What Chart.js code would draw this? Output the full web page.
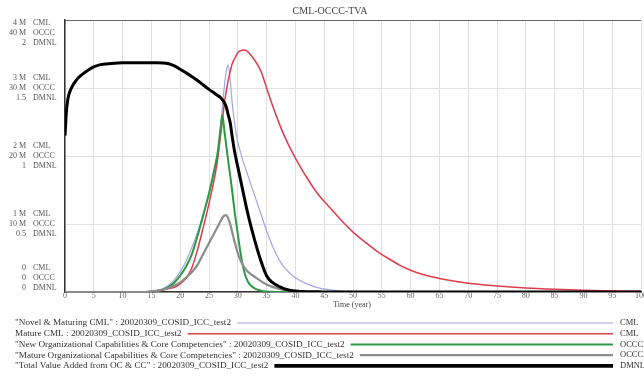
<!DOCTYPE html>
<html>
<head>
<meta charset="utf-8">
<script src="https://cdn.jsdelivr.net/npm/chart.js@4.4.1/dist/chart.umd.min.js"></script>
<style>
html,body{margin:0;padding:0;background:#fff;}
#wrap{width:644px;height:378px;}
</style>
</head>
<body>
<div id="wrap"><canvas id="c" width="644" height="378"></canvas></div>
<script>
// ---------- DATA ----------
const chartTitle = 'CML-OCCC-TVA';
const xAxisTitle = 'Time (year)';
const years = [0,0.25,0.5,1,2,3,4,5,6,8,
  10,12,14,15,16,17,18,19,20,21,
  22,23,24,25,26,26.5,27,27.3,27.7,28,
  28.3,28.7,29,29.5,30,30.5,31,31.5,32,33,
  34,35,36,37,38,39,40,42,44,46,
  48,50,52,54,56,58,60,62,65,70,
  75,80,85,90,95,100];
// CML (millions)
const novelMaturingCML = [0,0,0,0,0,0,0,0,0,0,
  0,0,0,0.01,0.02,0.05,0.1,0.18,0.3,0.45,
  0.65,0.88,1.15,1.45,1.8,2.0,2.4,2.7,3.05,3.25,
  3.34,3.1,2.8,2.45,2.2,2.05,1.9,1.78,1.65,1.4,
  1.15,0.9,0.68,0.5,0.37,0.28,0.21,0.12,0.06,0.03,
  0.015,0.01,0.005,0,0,0,0,0,0,0,
  0,0,0,0,0,0];
const matureCML = [0,0,0,0,0,0,0,0,0,0,
  0,0,0,0.01,0.02,0.03,0.05,0.07,0.12,0.2,
  0.35,0.62,0.95,1.3,1.7,1.95,2.3,2.5,2.8,2.95,
  3.1,3.25,3.35,3.44,3.52,3.55,3.56,3.55,3.51,3.4,
  3.25,3.0,2.75,2.52,2.31,2.13,1.97,1.68,1.43,1.24,
  1.05,0.88,0.74,0.61,0.5,0.4,0.32,0.26,0.2,0.13,
  0.09,0.06,0.04,0.025,0.015,0.01];
// OCCC (millions)
const newOCCC = [0,0,0,0,0,0,0,0,0,0,
  0,0,0,0.05,0.15,0.35,0.75,1.4,2.4,3.7,
  5.5,8.2,11.3,14.5,18.3,20.5,24,26,23.5,21.5,
  19.5,17,15,11.5,8.5,5.6,3.4,2.0,1.2,0.5,
  0.2,0.08,0.03,0.01,0,0,0,0,0,0,
  0,0,0,0,0,0,0,0,0,0,
  0,0,0,0,0,0];
const matureOCCC = [0,0,0,0,0,0,0,0,0,0,
  0,0,0,0.1,0.2,0.35,0.6,0.95,1.4,2.1,
  2.9,4.0,5.6,7.2,8.8,9.6,10.4,10.9,11.25,11.3,
  10.9,9.9,8.9,7.2,5.7,4.6,3.8,3.2,2.8,2.2,
  1.6,1.1,0.75,0.5,0.32,0.2,0.12,0.04,0.01,0,
  0,0,0,0,0,0,0,0,0,0,
  0,0,0,0,0,0];
// DMNL
const totalValueAdded = [1.15,1.33,1.42,1.49,1.56,1.6,1.63,1.655,1.67,1.68,
  1.685,1.685,1.685,1.685,1.685,1.684,1.678,1.662,1.638,1.612,
  1.585,1.555,1.522,1.49,1.46,1.445,1.43,1.415,1.39,1.36,
  1.31,1.24,1.15,1.02,0.92,0.82,0.72,0.62,0.53,0.37,
  0.23,0.12,0.07,0.044,0.025,0.013,0.007,0.002,0.001,0,
  0,0,0,0,0,0,0,0,0,0,
  0,0,0,0,0,0];

const cmlTickLabels = ['0','1 M','2 M','3 M','4 M'];
const occcTickLabels = ['0','10 M','20 M','30 M','40 M'];
const dmnlTickLabels = ['0','0.5','1','1.5','2'];
const unitNames = ['CML','OCCC','DMNL'];
const xTickValues = [0,5,10,15,20,25,30,35,40,45,50,55,60,65,70,75,80,85,90,95,100];

const seriesNames = [
  '"Novel & Maturing CML" : 20020309_COSID_ICC_test2',
  'Mature CML : 20020309_COSID_ICC_test2',
  '"New Organizational Capabilities & Core Competencies" : 20020309_COSID_ICC_test2',
  '"Mature Organizational Capabilities & Core Competencies" : 20020309_COSID_ICC_test2',
  '"Total Value Added from OC & CC" : 20020309_COSID_ICC_test2'
];
const seriesUnits = ['CML','CML','OCCC','OCCC','DMNL'];

// ---------- STYLE ----------
const colors = ['#a4a4e4','#dc3c4c','#2c9a44','#8c8c8c','#000000'];
const widths = [1.2,1.5,2,2.2,3];
const axisIds = ['yCML','yCML','yOCCC','yOCCC','yDMNL'];
const seriesData = [novelMaturingCML, matureCML, newOCCC, matureOCCC, totalValueAdded];
const SERIF = '"Liberation Serif", "DejaVu Serif", serif';

const datasets = seriesData.map((arr, i) => ({
  label: seriesNames[i],
  data: arr.map((v, k) => ({x: years[k], y: v})),
  borderColor: colors[i],
  borderWidth: widths[i],
  pointRadius: 0,
  fill: false,
  cubicInterpolationMode: 'monotone',
  yAxisID: axisIds[i],
  order: 5 - i
}));

const overlay = {
  id: 'overlay',
  afterDraw(chart) {
    const ctx = chart.ctx;
    const a = chart.chartArea;
    const sx = chart.scales.x;
    const sC = chart.scales.yCML;
    ctx.save();
    // top frame
    ctx.strokeStyle = '#666';
    ctx.lineWidth = 1;
    ctx.beginPath(); ctx.moveTo(a.left, a.top + 0.5); ctx.lineTo(a.right, a.top + 0.5); ctx.stroke();
    // title
    ctx.fillStyle = '#444';
    ctx.font = '10px ' + SERIF;
    ctx.textAlign = 'center'; ctx.textBaseline = 'middle';
    ctx.fillText(chartTitle, 330, 11);
    // y labels
    ctx.font = '8px ' + SERIF;
    const lh = 9.6;
    for (let i = 0; i < cmlTickLabels.length; i++) {
      let cy = sC.getPixelForValue(i);
      cy = Math.max(a.top + 13, Math.min(a.bottom - 14, cy));
      const nums = [cmlTickLabels[i], occcTickLabels[i], dmnlTickLabels[i]];
      for (let j = 0; j < 3; j++) {
        const yy = cy + (j - 1) * lh;
        ctx.fillStyle = '#555';
        ctx.textAlign = 'right';
        ctx.fillText(nums[j], 26, yy);
        ctx.textAlign = 'left';
        ctx.fillText(unitNames[j], 33, yy);
      }
    }
    // x tick labels
    ctx.font = '8px ' + SERIF;
    ctx.fillStyle = '#666';
    ctx.textAlign = 'center'; ctx.textBaseline = 'middle';
    xTickValues.forEach(v => ctx.fillText(String(v), sx.getPixelForValue(v), 296));
    ctx.fillStyle = '#444';
    ctx.fillText(xAxisTitle, 352, 305);
    // legend
    ctx.font = '9.2px ' + SERIF;
    ctx.textBaseline = 'middle';
    for (let i = 0; i < seriesNames.length; i++) {
      const yy = 323 + i * 10.7;
      ctx.fillStyle = '#333';
      ctx.textAlign = 'left';
      ctx.fillText(seriesNames[i], 15, yy);
      const w = ctx.measureText(seriesNames[i]).width;
      ctx.strokeStyle = colors[i];
      ctx.lineWidth = widths[i] + (i === 4 ? 0.8 : 0);
      ctx.beginPath(); ctx.moveTo(15 + w + 6, yy); ctx.lineTo(613, yy); ctx.stroke();
      ctx.fillStyle = '#333';
      ctx.font = '8.5px ' + SERIF;
      ctx.fillText(seriesUnits[i], 620, yy);
      ctx.font = '9.2px ' + SERIF;
    }
    ctx.restore();
  }
};

new Chart(document.getElementById('c'), {
  type: 'line',
  data: { datasets },
  options: {
    responsive: false,
    animation: false,
    devicePixelRatio: 1,
    layout: { padding: { left: 65, right: 3, top: 20, bottom: 86 } },
    plugins: { legend: { display: false }, title: { display: false }, tooltip: { enabled: false } },
    scales: {
      x: {
        type: 'linear', min: 0, max: 100,
        ticks: { display: false, stepSize: 5 },
        grid: { color: '#e0e0e0', lineWidth: 1, drawTicks: false },
        border: { color: '#333', width: 1.5 }
      },
      yCML: {
        type: 'linear', position: 'left', min: 0, max: 4,
        ticks: { display: false, stepSize: 1 },
        grid: { color: '#e0e0e0', lineWidth: 1, drawTicks: false },
        border: { color: '#333', width: 1.5 }
      },
      yOCCC: { type: 'linear', display: false, min: 0, max: 40 },
      yDMNL: { type: 'linear', display: false, min: 0, max: 2 }
    }
  },
  plugins: [overlay]
});
</script>
</body>
</html>
